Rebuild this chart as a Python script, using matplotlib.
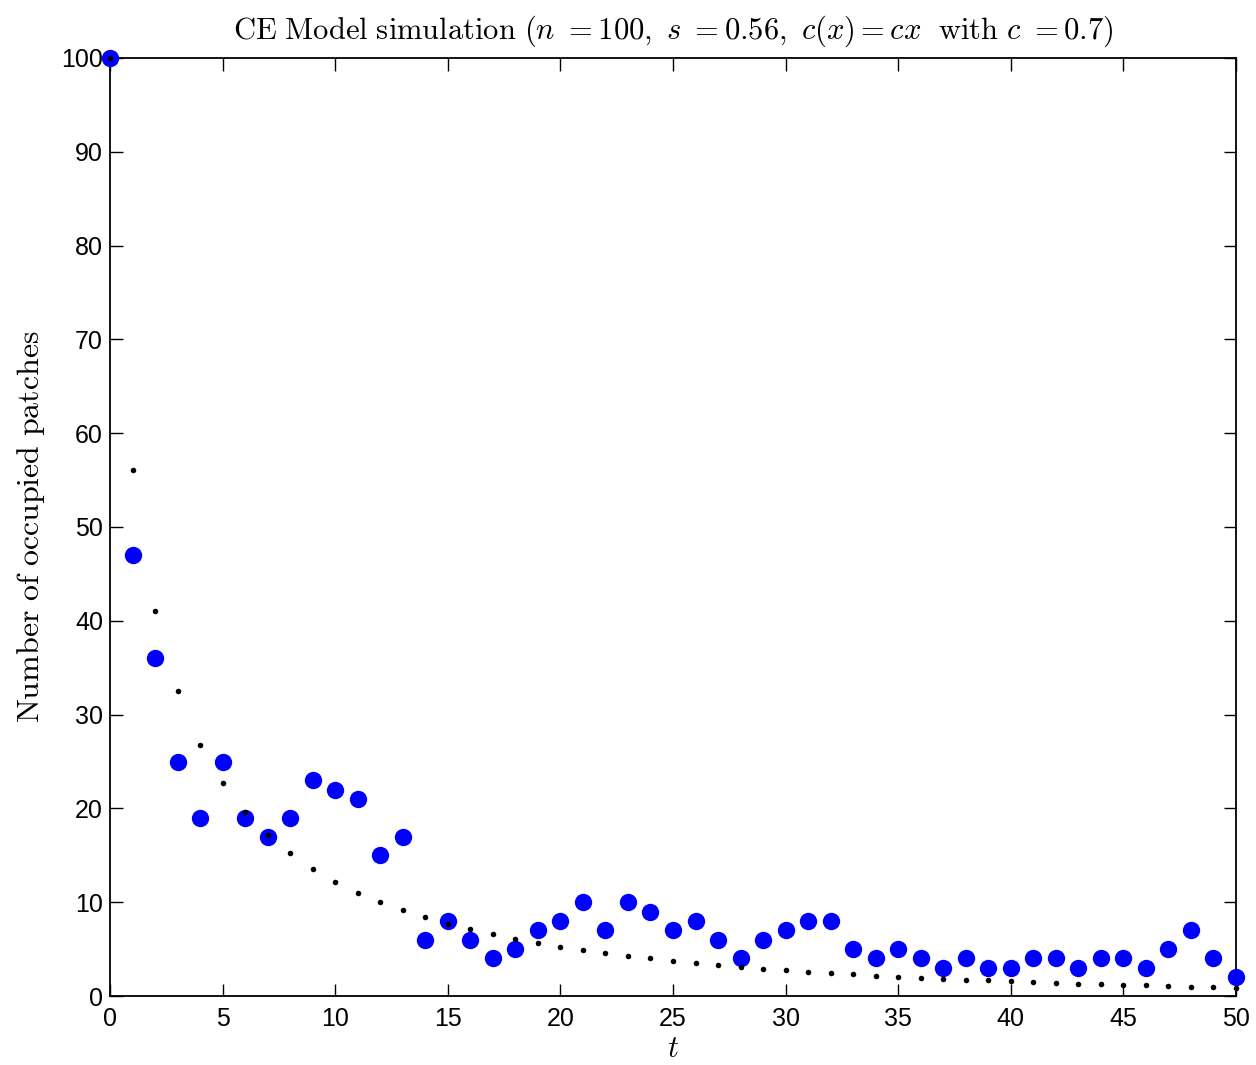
import numpy as np
import matplotlib
matplotlib.use("Agg")
import matplotlib.pyplot as plt

t = np.arange(0, 51)

# simulated run (blue)
occupied = [100, 47, 36, 25, 19, 25, 19, 17, 19, 23, 22, 21, 15, 17, 6, 8, 6, 4, 5, 7,
            8, 10, 7, 10, 9, 7, 8, 6, 4, 6, 7, 8, 8, 5, 4, 5, 4, 3, 4, 3,
            3, 4, 4, 3, 4, 4, 3, 5, 7, 4, 2]

# expected trajectory (black dots)
expected = [100, 56.1, 41.0, 32.5, 26.8, 22.7, 19.6, 17.2, 15.2, 13.5, 12.2, 11.0, 10.05, 9.17,
            8.39, 7.71, 7.11, 6.57, 6.07, 5.65, 5.26, 4.9, 4.58, 4.3, 4.01, 3.77, 3.52,
            3.3, 3.09, 2.91, 2.74, 2.6, 2.42, 2.31, 2.17, 2.06, 1.92, 1.81, 1.74, 1.67,
            1.56, 1.46, 1.39, 1.31, 1.24, 1.17, 1.14, 1.07, 0.99, 0.96, 0.89]

plt.rcParams["font.family"] = ["Liberation Sans", "DejaVu Sans"]
plt.rcParams["mathtext.fontset"] = "cm"

fig = plt.figure(figsize=(12.56, 10.65), dpi=100)
ax = fig.add_axes([110 / 1256, 1 - 996 / 1065, 1126 / 1256, 938 / 1065])

ax.plot(t, occupied, "o", color=(0, 0, 1), markersize=12.5, markeredgewidth=0, clip_on=False, zorder=3)
ax.plot(t, expected, "o", color="black", markersize=4.0, markeredgewidth=0, clip_on=False, zorder=4)

ax.set_xlim(0, 50)
ax.set_ylim(0, 100)
ax.set_xticks(np.arange(0, 51, 5))
ax.set_yticks(np.arange(0, 101, 10))
ax.tick_params(direction="in", length=9, width=1, labelsize=18, top=True, right=True, pad=5)
ax.tick_params(axis="x", pad=8)
for sp in ax.spines.values():
    sp.set_linewidth(1.3)

ax.set_xlabel(r"$t$", fontsize=22, labelpad=2)
ax.set_ylabel(r"$\mathrm{Number\ of\ occupied\ patches}$", fontsize=23, labelpad=10)
ax.set_title(r"$\mathrm{CE\ Model\ simulation\ }(n\ {=}100,\ s\ {=}0.56,\ c(x) = cx\ \ \mathrm{with}\ c\ {=}0.7)$",
             fontsize=22, pad=14)

fig.savefig("out.png", dpi=100)
plt.close(fig)
